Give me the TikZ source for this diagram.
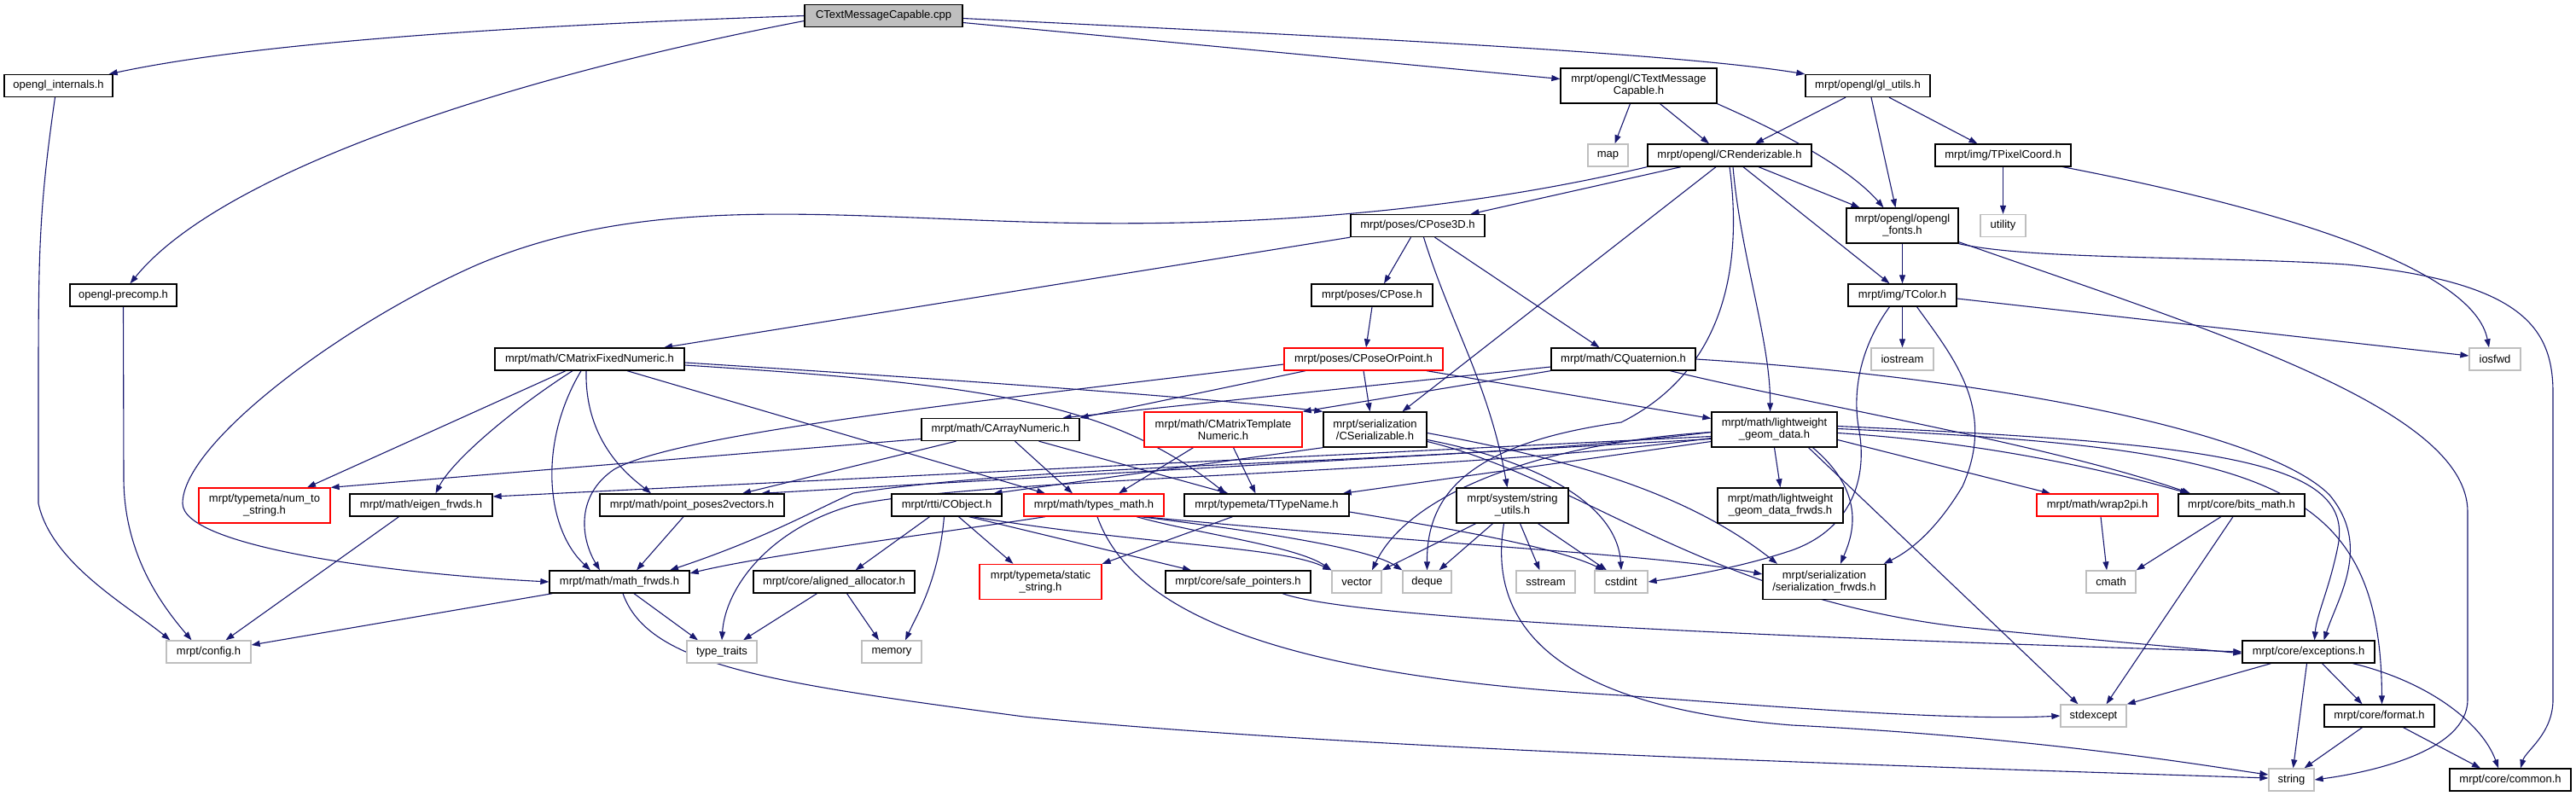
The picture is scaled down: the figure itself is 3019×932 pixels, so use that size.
\documentclass[tikz,border=0pt]{standalone}
\usepackage{fontspec}
\setmainfont{Liberation Sans}
\usetikzlibrary{arrows.meta,calc}
\definecolor{edgeblue}{RGB}{25,25,112}
\definecolor{sysgray}{RGB}{191,191,191}
\pgfdeclarelayer{bg}
\pgfsetlayers{bg,main}

\begin{document}
\begin{tikzpicture}[x=1pt,y=-1pt,
  hdr/.style={draw=black, line width=1.3pt, fill=white, inner sep=0pt, align=center,
    minimum height=26pt, font=\fontsize{13}{14}\selectfont},
  two/.style={hdr, minimum height=41pt},
  sys/.style={hdr, draw=sysgray},
  part/.style={draw=red},
  incl/.style={draw=edgeblue, line width=1.1pt, -{Triangle[length=10pt,width=7pt]}}]
\useasboundingbox (0,0) rectangle (3019,932);

% headers
\node[hdr,fill=sysgray,minimum width=185pt] (cpp) at (1035.5,18.5) {CTextMessageCapable.cpp};
\node[hdr,minimum width=127pt] (intl) at (68.5,100.5) {opengl\_internals.h};
\node[two,minimum width=183pt] (tmc) at (1920.5,100.5) {mrpt/opengl/CTextMessage\\Capable.h};
\node[hdr,minimum width=146pt] (glu) at (2189,100.5) {mrpt/opengl/gl\_utils.h};
\node[hdr,minimum width=192pt] (rend) at (2027,182) {mrpt/opengl/CRenderizable.h};
\node[hdr,minimum width=159pt] (tpix) at (2347.5,182) {mrpt/img/TPixelCoord.h};
\node[hdr,minimum width=157pt] (pose3d) at (1661.5,264.5) {mrpt/poses/CPose3D.h};
\node[two,minimum width=131pt] (fonts) at (2229.5,264.5) {mrpt/opengl/opengl\\\_fonts.h};
\node[hdr,minimum width=125pt] (precomp) at (144.5,346) {opengl-precomp.h};
\node[hdr,minimum width=142pt] (pose) at (1608,346) {mrpt/poses/CPose.h};
\node[hdr,minimum width=127pt] (tcolor) at (2229.5,346) {mrpt/img/TColor.h};
\node[hdr,minimum width=222pt] (cmfn) at (691,421) {mrpt/math/CMatrixFixedNumeric.h};
\node[hdr,part,minimum width=186pt] (cpop) at (1598,421) {mrpt/poses/CPoseOrPoint.h};
\node[hdr,minimum width=169pt] (quat) at (1902.5,421) {mrpt/math/CQuaternion.h};
\node[hdr,minimum width=185pt] (can) at (1172.5,503.5) {mrpt/math/CArrayNumeric.h};
\node[two,part,minimum width=185pt] (cmtn) at (1433.5,503.5) {mrpt/math/CMatrixTemplate\\Numeric.h};
\node[two,minimum width=121pt] (cser) at (1611.5,503.5) {mrpt/serialization\\/CSerializable.h};
\node[two,minimum width=147pt] (lgd) at (2079.5,503.5) {mrpt/math/lightweight\\\_geom\_data.h};
\node[two,part,minimum width=154pt] (n2s) at (310,592.5) {mrpt/typemeta/num\_to\\\_string.h};
\node[hdr,minimum width=167pt] (eig) at (493.5,592) {mrpt/math/eigen\_frwds.h};
\node[hdr,minimum width=216pt] (pp2v) at (811,592) {mrpt/math/point\_poses2vectors.h};
\node[hdr,minimum width=129pt] (cobj) at (1109.5,592) {mrpt/rtti/CObject.h};
\node[hdr,part,minimum width=164pt] (tmath) at (1282,592) {mrpt/math/types\_math.h};
\node[hdr,minimum width=193pt] (ttn) at (1484.5,592) {mrpt/typemeta/TTypeName.h};
\node[two,minimum width=131pt] (sutil) at (1772.5,592.5) {mrpt/system/string\\\_utils.h};
\node[two,minimum width=147pt] (lgdf) at (2086.5,592.5) {mrpt/math/lightweight\\\_geom\_data\_frwds.h};
\node[hdr,part,minimum width=142pt] (wrap) at (2458,592) {mrpt/math/wrap2pi.h};
\node[hdr,minimum width=148pt] (bits) at (2627,592) {mrpt/core/bits\_math.h};
\node[hdr,minimum width=164pt] (mfw) at (726,682) {mrpt/math/math\_frwds.h};
\node[hdr,minimum width=189pt] (align) at (977.5,682) {mrpt/core/aligned\_allocator.h};
\node[two,part,minimum width=143pt] (sstr) at (1219.5,682) {mrpt/typemeta/static\\\_string.h};
\node[hdr,minimum width=170pt] (safe) at (1451,682) {mrpt/core/safe\_pointers.h};
\node[two,minimum width=144pt] (serf) at (2138,682) {mrpt/serialization\\/serialization\_frwds.h};
\node[sys,minimum width=99pt] (config) at (244.5,764) {mrpt/config.h};
\node[hdr,minimum width=155pt] (exc) at (2705.5,764) {mrpt/core/exceptions.h};
\node[hdr,minimum width=129pt] (format) at (2788.5,839) {mrpt/core/format.h};
\node[hdr,minimum width=142pt] (common) at (2942,914) {mrpt/core/common.h};

% system headers
\foreach \nm/\x/\y/\w/\t in {map/1884.5/182/47/map, utility/2347.5/264.5/53/utility,
    iostream/2229.5/421/73/iostream, iosfwd/2924/421/60/iosfwd,
    vector/1590/682/58/vector, deque/1672.5/682/57/deque, sstream/1811.5/682/69/sstream,
    cstdint/1900/682/62/cstdint, cmath/2474/682/58/cmath, ttraits/846/764/82/type\_traits,
    memory/1045/764/70/memory, stdexcept/2453.5/839/77/stdexcept, string/2685.5/914/53/string}
  \node[sys,minimum width=\w pt] (\nm) at (\x,\y) {\t};

\begin{pgfonlayer}{bg}
% from the source file
\draw[incl] (cpp.west) .. controls (600,30) and (300,50) .. ([xshift=-5pt]intl.north east);
\draw[incl] ([yshift=-6pt]cpp.west) .. controls (600,90) and (260,200) .. ([xshift=8pt]precomp.north);
\draw[incl] ([yshift=-8pt]cpp.east) -- ([yshift=8pt]tmc.west);
\draw[incl] ([yshift=-3pt]cpp.east) .. controls (1500,40) and (1950,60) .. (glu.north west);
\draw[incl] ([xshift=-4pt]intl.south) .. controls (45,250) and (45,300) .. (45,470) -- (45,590) .. controls (60,660) and (150,710) .. ([xshift=5pt]config.north west);
\draw[incl] (precomp.south) -- (145,560) .. controls (145,650) and (190,710) .. ([xshift=-20pt]config.north);
% opengl
\draw[incl] ([xshift=-10pt]tmc.south) -- ([xshift=8pt]map.north);
\draw[incl] ([xshift=25pt]tmc.south) -- ([xshift=-24pt]rend.north);
\draw[incl] (tmc.south east) .. controls (2100,160) and (2170,200) .. ([xshift=-22pt]fonts.north);
\draw[incl] ([xshift=-26pt]glu.south) -- ([xshift=30pt]rend.north);
\draw[incl] ([xshift=4pt]glu.south) -- ([xshift=-8pt]fonts.north);
\draw[incl] ([xshift=25pt]glu.south) -- ([xshift=-30pt]tpix.north);
\draw[incl] (tpix.south) -- (utility.north);
\draw[incl] ([xshift=70pt]tpix.south) .. controls (2700,250) and (2900,320) .. ([xshift=-7pt]iosfwd.north);
\draw[incl] ([xshift=-57pt]rend.south) -- ([xshift=62pt]pose3d.north);
\draw[incl] (rend.south west) .. controls (1700,250) and (1450,268) .. (1200,260) .. controls (950,252) and (750,230) .. (560,310) .. controls (400,380) and (214,520) .. (214,590) .. controls (214,640) and (450,672) .. (mfw.west);
\draw[incl] ([xshift=34pt]rend.south) -- ([xshift=-50pt]fonts.north);
\draw[incl] ([xshift=16pt]rend.south) -- ([xshift=-15pt]tcolor.north);
\draw[incl] ([xshift=4pt]rend.south) .. controls (2040,300) and (2075,400) .. ([xshift=-5pt]lgd.north);
\draw[incl] (rend.south) .. controls (2045,330) and (2010,440) .. (1900,495) .. controls (1720,520) and (1672,580) .. (deque.north);
\draw[incl] ([xshift=-16pt]rend.south) -- ([xshift=32pt]cser.north);
\draw[incl] (fonts.south) -- (tcolor.north);
\draw[incl] (fonts.south east) .. controls (2380,305) and (2600,300) .. (2750,310) .. controls (2950,330) and (2992,380) .. (2992,460) -- (2992,820) .. controls (2992,860) and (2960,880) .. ([xshift=12pt]common.north);
\draw[incl] ([yshift=2pt]fonts.south east) .. controls (2600,390) and (2892,480) .. (2892,600) -- (2892,820) .. controls (2892,880) and (2780,905) .. (string.east);
% poses
\draw[incl] ([xshift=-8pt]pose3d.south) -- ([xshift=14pt]pose.north);
\draw[incl] ([xshift=20pt]pose3d.south) -- ([xshift=-28pt]quat.north);
\draw[incl] (pose3d.south west) -- ([xshift=87pt]cmfn.north);
\draw[incl] ([xshift=7pt]pose3d.south) .. controls (1700,380) and (1745,450) .. ([xshift=-6pt]sutil.north);
\draw[incl] (pose.south) -- ([xshift=3pt]cpop.north);
\draw[incl] ([yshift=-6pt]cpop.west) .. controls (1200,465) and (800,505) .. (720,550) .. controls (675,580) and (680,630) .. ([xshift=-23pt]mfw.north);
\draw[incl] ([xshift=-68pt]cpop.south) -- (can.north east);
\draw[incl] (cpop.south) -- ([xshift=-6pt]cser.north);
\draw[incl] ([xshift=74pt]cpop.south) -- ([yshift=13pt]lgd.west);
\draw[incl] ([yshift=-9pt]quat.west) -- ([xshift=73pt]can.north);
\draw[incl] (quat.south west) -- (cmtn.north east);
\draw[incl] (quat.east) .. controls (2300,440) and (2650,500) .. (2730,580) .. controls (2780,640) and (2740,700) .. ([xshift=18pt]exc.north);
\draw[incl] ([xshift=55pt]quat.south) .. controls (2100,470) and (2400,520) .. ([xshift=-60pt]bits.north);
% math
\draw[incl] ([xshift=-28pt]cmfn.south) -- ([xshift=50pt]n2s.north);
\draw[incl] ([xshift=-20pt]cmfn.south) .. controls (600,480) and (530,540) .. ([xshift=17pt]eig.north);
\draw[incl] ([xshift=-10pt]cmfn.south) .. controls (630,520) and (640,620) .. ([xshift=-34pt]mfw.north);
\draw[incl] ([xshift=-4pt]cmfn.south) .. controls (685,520) and (740,560) .. ([xshift=-48pt]pp2v.north);
\draw[incl] ([xshift=44pt]cmfn.south) -- ([xshift=-57pt]tmath.north);
\draw[incl] ([yshift=-4pt]cmfn.east) .. controls (1200,450) and (1450,470) .. (cser.north west);
\draw[incl] ([yshift=-7pt]cmfn.east) .. controls (1150,450) and (1300,470) .. ([xshift=-48pt]ttn.north);
\draw[incl] ([yshift=-11pt]can.west) -- (n2s.north east);
\draw[incl] ([xshift=-52pt]can.south) -- ([xshift=59pt]pp2v.north);
\draw[incl] ([xshift=17pt]can.south) -- ([xshift=-25pt]tmath.north);
\draw[incl] ([xshift=45pt]can.south) -- ([xshift=-45pt]ttn.north);
\draw[incl] ([xshift=-35pt]cmtn.south) -- ([xshift=29pt]tmath.north);
\draw[incl] ([xshift=12pt]cmtn.south) -- ([xshift=-13pt]ttn.north);
\draw[incl] (cser.south west) -- ([xshift=55pt]cobj.north);
\draw[incl] ([yshift=-12pt]cser.east) .. controls (1800,540) and (1895,590) .. (cstdint.north);
\draw[incl] ([yshift=-4pt]cser.east) .. controls (1850,540) and (1980,580) .. ([xshift=-55pt]serf.north);
\draw[incl] ([yshift=-14pt]cser.east) .. controls (1850,560) and (2000,700) .. (2300,735) .. controls (2450,750) and (2550,758) .. ([yshift=-2pt]exc.west);
% lightweight geometry
\draw[incl] (lgd.south) -- (lgdf.north);
\draw[incl] ([yshift=-12pt]lgd.east) -- ([xshift=-55pt]wrap.north);
\draw[incl] ([yshift=-4pt]lgd.east) .. controls (2350,520) and (2500,560) .. ([xshift=-62pt]bits.north);
\draw[incl] ([yshift=4pt]lgd.east) .. controls (2600,520) and (2760,540) .. (2740,640) .. controls (2730,690) and (2715,720) .. ([xshift=7pt]exc.north);
\draw[incl] ([yshift=1pt]lgd.east) .. controls (2650,525) and (2790,560) .. ([xshift=3pt]format.north);
\draw[incl] ([xshift=40pt]lgd.south) -- ([xshift=-18pt]stdexcept.north);
\draw[incl] ([xshift=45pt]lgd.south) .. controls (2190,580) and (2170,630) .. ([xshift=19pt]serf.north);
\draw[incl] ([yshift=-3pt]lgd.west) .. controls (1700,545) and (1250,540) .. (1000,578) .. controls (960,595) and (900,630) .. ([xshift=59pt]mfw.north);
\draw[incl] ([yshift=-10pt]lgd.west) .. controls (1700,555) and (1150,560) .. (1000,592) .. controls (900,620) and (850,690) .. (ttraits.north);
\draw[incl] ([yshift=-8pt]lgd.west) -- ([yshift=10pt]eig.east);
\draw[incl] ([yshift=-11pt]lgd.west) -- ([xshift=81pt]pp2v.north);
\draw[incl] ([yshift=-14pt]lgd.west) -- ([xshift=-8pt]ttn.north east);
\draw[incl] ([yshift=-3pt]lgd.west) .. controls (1800,520) and (1650,580) .. ([xshift=18pt]vector.north);
% colours
\draw[incl] (tcolor.south) -- (iostream.north);
\draw[incl] ([yshift=-4pt]tcolor.east) -- ([yshift=4pt]iosfwd.west);
\draw[incl] ([xshift=-15pt]tcolor.south) .. controls (2185,400) and (2170,450) .. (2178,500) .. controls (2190,560) and (2170,620) .. (2100,645) .. controls (2040,665) and (1980,675) .. (cstdint.east);
\draw[incl] ([xshift=17pt]tcolor.south) .. controls (2290,420) and (2340,480) .. (2300,570) .. controls (2270,620) and (2240,645) .. ([xshift=-3pt]serf.north east);
% lower rows
\draw[incl] ([xshift=-20pt]align.south) -- ([xshift=25pt]ttraits.north);
\draw[incl] ([xshift=15pt]align.south) -- ([xshift=-15pt]memory.north);
\draw[incl] ([xshift=4pt]mfw.south west) -- ([yshift=8pt]config.east);
\draw[incl] ([xshift=17pt]mfw.south) -- ([xshift=-28pt]ttraits.north);
\draw[incl] ([xshift=4pt]mfw.south) .. controls (760,780) and (900,800) .. (1200,840) .. controls (1600,880) and (2300,900) .. ([yshift=2pt]string.west);
\draw[incl] ([xshift=-26pt]eig.south) -- ([xshift=20pt]config.north);
\draw[incl] ([xshift=-10pt]pp2v.south) -- ([xshift=20pt]mfw.north);
\draw[incl] ([xshift=-20pt]cobj.south) -- ([xshift=25pt]align.north);
\draw[incl] ([xshift=-3pt]cobj.south) .. controls (1100,680) and (1075,720) .. ([xshift=16pt]memory.north);
\draw[incl] ([xshift=14pt]cobj.south) -- ([xshift=-32pt]sstr.north);
\draw[incl] ([xshift=26pt]cobj.south) -- ([xshift=-55pt]safe.north);
\draw[incl] ([xshift=30pt]cobj.south) .. controls (1350,640) and (1500,640) .. (vector.north west);
\draw[incl] ([xshift=-57pt]tmath.south) .. controls (1100,625) and (900,650) .. ([yshift=10pt]mfw.east);
\draw[incl] ([xshift=50pt]tmath.south) .. controls (1400,625) and (1520,640) .. (vector.north west);
\draw[incl] ([xshift=55pt]tmath.south) .. controls (1450,620) and (1600,640) .. (deque.north west);
\draw[incl] ([xshift=58pt]tmath.south) .. controls (1700,640) and (1950,650) .. ([yshift=9pt]serf.west);
\draw[incl] ([xshift=4pt]tmath.south) .. controls (1320,700) and (1450,790) .. (1900,815) .. controls (2100,830) and (2300,845) .. (stdexcept.west);
\draw[incl] ([xshift=-40pt]ttn.south) -- (sstr.north east);
\draw[incl] ([yshift=-8pt]ttn.east) .. controls (1700,620) and (1820,640) .. ([xshift=-20pt]cstdint.north);
\draw[incl] ([xshift=-43pt]sutil.south) -- (vector.north east);
\draw[incl] ([xshift=-23pt]sutil.south) -- ([xshift=14pt]deque.north);
\draw[incl] ([xshift=9pt]sutil.south) -- ([xshift=-7pt]sstream.north);
\draw[incl] ([xshift=30pt]sutil.south) -- ([xshift=-17pt]cstdint.north);
\draw[incl] ([xshift=-10pt]sutil.south) .. controls (1740,750) and (1850,830) .. (2100,850) .. controls (2400,865) and (2600,900) .. ([yshift=6pt]string.west);
\draw[incl] ([xshift=52pt]safe.south) .. controls (1600,730) and (2200,750) .. (exc.west);
\draw[incl] ([xshift=4pt]wrap.south) -- ([xshift=-5pt]cmath.north);
\draw[incl] ([xshift=-24pt]bits.south) -- (cmath.north east);
\draw[incl] ([xshift=-10pt]bits.south) -- ([xshift=15pt]stdexcept.north);
\draw[incl] ([xshift=-44pt]exc.south) -- (stdexcept.north east);
\draw[incl] ([xshift=-2pt]exc.south) -- ([xshift=2pt]string.north);
\draw[incl] ([xshift=16pt]exc.south) -- ([xshift=-20pt]format.north);
\draw[incl] ([xshift=52pt]exc.south) .. controls (2850,800) and (2910,850) .. ([xshift=-14pt]common.north);
\draw[incl] ([xshift=-20pt]format.south) -- ([xshift=15pt]string.north);
\draw[incl] ([xshift=28pt]format.south) -- ([xshift=-35pt]common.north);
\end{pgfonlayer}
\end{tikzpicture}
\end{document}
